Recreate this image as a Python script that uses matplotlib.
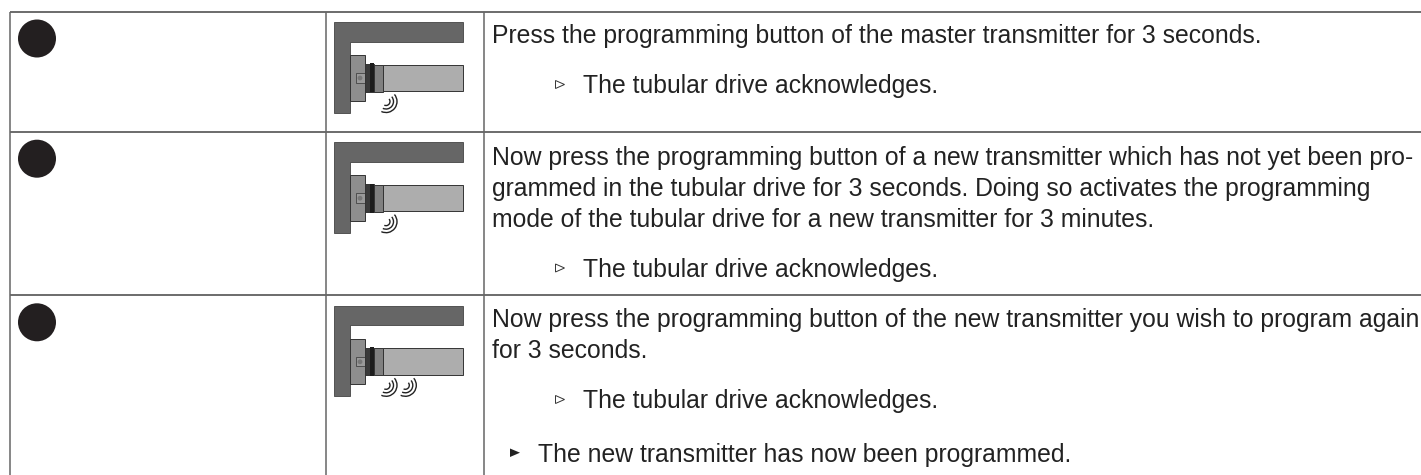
import matplotlib
matplotlib.use("Agg")
import matplotlib.pyplot as plt
from matplotlib.patches import Rectangle, Circle, Arc, Polygon

W, H = 1421, 475
plt.rcParams['font.family'] = ['Liberation Sans', 'DejaVu Sans']

row_lines = [11.5, 131.7, 295.3]
col_lines = [9.5, 326, 484]
wave_counts = [1, 1, 2]
text_items = [
    ("Press the programming button of the master transmitter for 3 seconds.", 35, False),
    ("The tubular drive acknowledges.", 85, True),
    ("Now press the programming button of a new transmitter which has not yet been pro-", 156.5, False),
    ("grammed in the tubular drive for 3 seconds. Doing so activates the programming", 187.5, False),
    ("mode of the tubular drive for a new transmitter for 3 minutes.", 218.5, False),
    ("The tubular drive acknowledges.", 268.5, True),
    ("Now press the programming button of the new transmitter you wish to program again", 319, False),
    ("for 3 seconds.", 350, False),
    ("The tubular drive acknowledges.", 400, True),
]
result_text = ("The new transmitter has now been programmed.", 453.5)

fig = plt.figure(figsize=(W/100, H/100), dpi=100)
ax = fig.add_axes([0, 0, 1, 1])
ax.set_xlim(0, W); ax.set_ylim(H, 0); ax.axis('off')

for y in row_lines:
    ax.plot([col_lines[0], W], [y, y], color='#444444', lw=1.1, solid_capstyle='butt')
for x in col_lines:
    ax.plot([x, x], [row_lines[0], H], color='#666666', lw=1.1, solid_capstyle='butt')

for top in row_lines:
    ax.add_patch(Circle((37, top + 27), 19, color='#231f20', lw=0))

def rect(x, y, w, h, fc, ec='#333333', lw=0.7):
    ax.add_patch(Rectangle((x, y), w, h, fc=fc, ec=ec, lw=lw))

def drive(top, waves):
    d = top - 11.5
    ax.add_patch(Polygon([(334, 22+d), (463, 22+d), (463, 41.5+d), (349.5, 41.5+d),
                          (349.5, 112.5+d), (334, 112.5+d)], fc='#666666', ec='#444444', lw=0.6))
    rect(349.5, 55+d, 15, 45.5, '#8e8e8e')
    rect(355.5, 73+d, 9, 9.5, '#9a9a9a', lw=0.5)
    ax.add_patch(Circle((360, 78+d), 2.4, fc='#777777', ec='none'))
    rect(364.5, 64+d, 9, 27.5, '#3a3a3a')
    rect(369.5, 63.3+d, 4, 29, '#1c1c1c', lw=0)
    rect(374, 64.5+d, 8.7, 27, '#808080')
    rect(382.7, 64.5+d, 80.3, 26.5, '#adadad')
    for i in range(waves):
        cx = 386 + i*19.3
        cy = 101.5 + d
        for r in (4, 7.5, 11):
            ax.add_patch(Arc((cx, cy), 2*r, 2*r, theta1=-40, theta2=115,
                             color='#222222', lw=1.0))

for top, n in zip(row_lines, wave_counts):
    drive(top, n)

FS = 17.8
CAP = 8.3
for s, y, sub in text_items:
    x = 583 if sub else 492.5
    ax.text(x, y + CAP, s, fontsize=FS, color='#222222', va='baseline', ha='left')
    if sub:
        ax.add_patch(Polygon([(555.5, y-4.5), (555.5, y+3.5), (564.5, y-0.5)], fc='white', ec='#333333', lw=0.7))
ax.text(538, result_text[1] + CAP, result_text[0], fontsize=FS, color='#222222', va='baseline', ha='left')
ax.add_patch(Polygon([(510, result_text[1]-5), (510, result_text[1]+3.5), (520, result_text[1]-0.8)], fc='#222222', ec='none'))

fig.savefig('out.png', dpi=100)
